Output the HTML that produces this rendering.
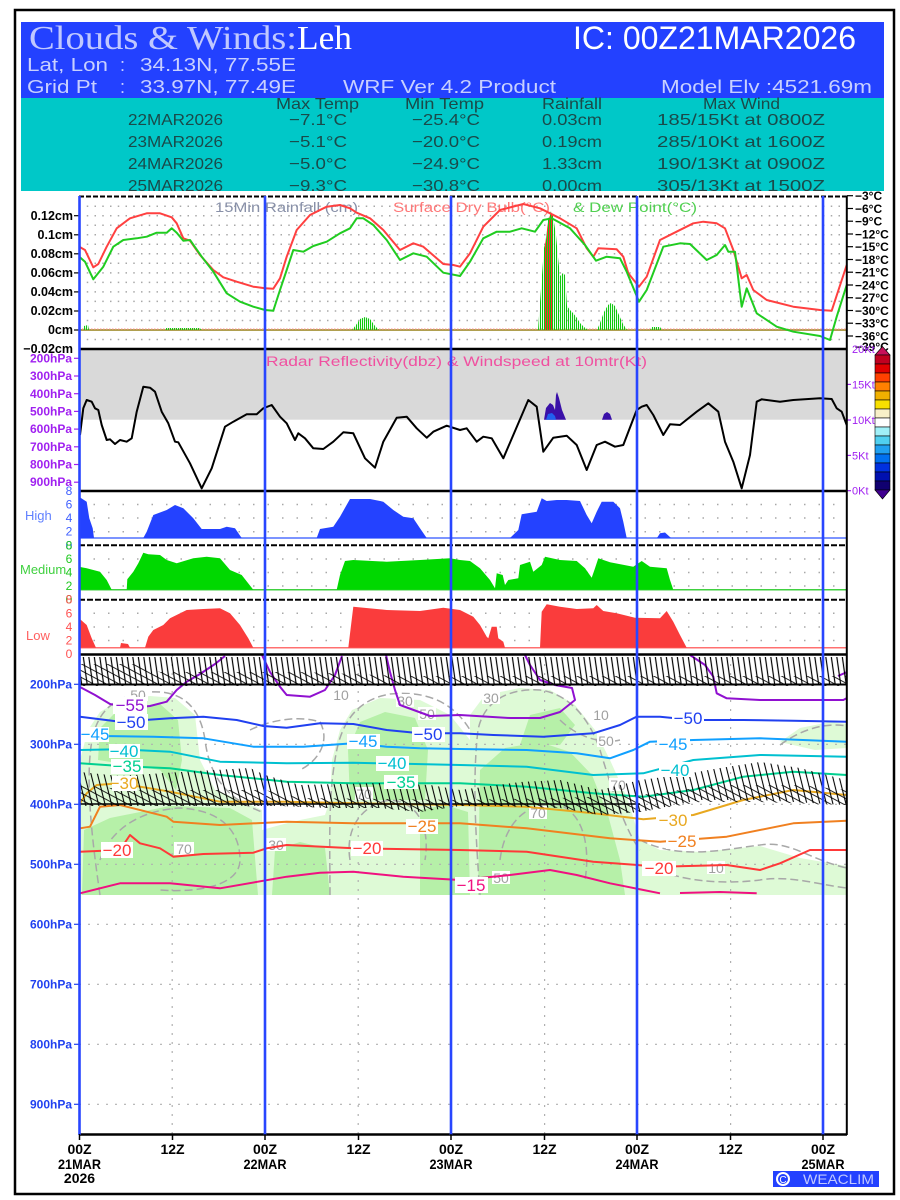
<!DOCTYPE html>
<html><head><meta charset="utf-8"><style>
html,body{margin:0;padding:0;background:#fff;}
svg{display:block;}
text{font-family:"Liberation Sans",sans-serif;}
</style></head><body>
<svg width="900" height="1200" viewBox="0 0 900 1200" xmlns="http://www.w3.org/2000/svg">
<defs>
<clipPath id="hdr"><rect x="21" y="22" width="863" height="169"/></clipPath>
<clipPath id="plot"><rect x="79" y="196" width="768" height="940"/></clipPath>
<pattern id="rb" patternUnits="userSpaceOnUse" width="2" height="10"><rect x="0" y="0" width="1.1" height="10" fill="#10C810"/></pattern>
<pattern id="rr" patternUnits="userSpaceOnUse" width="2" height="10"><rect x="1" y="0" width="1" height="10" fill="#FF3030"/></pattern>
<pattern id="vh" patternUnits="userSpaceOnUse" width="5.5" height="400" patternTransform="skewX(8)"><line x1="2" y1="0" x2="2" y2="400" stroke="#000" stroke-width="1.2"/></pattern>
<pattern id="vh2" patternUnits="userSpaceOnUse" width="6.5" height="400" patternTransform="skewX(14)"><line x1="2" y1="0" x2="2" y2="400" stroke="#000" stroke-width="1.1"/></pattern>
<pattern id="dg" patternUnits="userSpaceOnUse" width="400" height="6" patternTransform="rotate(28)"><line x1="0" y1="2" x2="400" y2="2" stroke="#000" stroke-width="1"/></pattern>
</defs>

<!-- outer frame -->
<rect x="15" y="10" width="879" height="1184" fill="#fff" stroke="#000" stroke-width="2.5"/>

<!-- header -->
<rect x="21" y="22" width="863" height="76" fill="#2341FF"/>
<rect x="21" y="98" width="863" height="93" fill="#00C8C8"/>
<text x="29" y="49" font-size="34" fill="#C0C8FF" textLength="268" lengthAdjust="spacingAndGlyphs" style="font-family:'Liberation Serif',serif">Clouds &amp; Winds:</text>
<text x="297" y="49" font-size="34" fill="#FFFFFF" textLength="55" lengthAdjust="spacingAndGlyphs" style="font-family:'Liberation Serif',serif">Leh</text>
<text x="573" y="49" font-size="32" fill="#FFFFFF" textLength="283" lengthAdjust="spacingAndGlyphs">IC: 00Z21MAR2026</text>
<g fill="#C8D0FF" font-size="18">
<text x="27" y="71" textLength="81" lengthAdjust="spacingAndGlyphs">Lat, Lon</text>
<text x="120" y="71">:</text>
<text x="140" y="71" textLength="156" lengthAdjust="spacingAndGlyphs">34.13N, 77.55E</text>
<text x="27" y="93" textLength="70" lengthAdjust="spacingAndGlyphs">Grid Pt</text>
<text x="120" y="93">:</text>
<text x="140" y="93" textLength="156" lengthAdjust="spacingAndGlyphs">33.97N, 77.49E</text>
<text x="343" y="93" textLength="213" lengthAdjust="spacingAndGlyphs">WRF Ver 4.2 Product</text>
<text x="661" y="93" textLength="211" lengthAdjust="spacingAndGlyphs">Model Elv :4521.69m</text>
</g>
<g clip-path="url(#hdr)" fill="#1A4A4A" font-size="16">
<text x="276" y="109" textLength="83" lengthAdjust="spacingAndGlyphs">Max Temp</text>
<text x="405" y="109" textLength="79" lengthAdjust="spacingAndGlyphs">Min Temp</text>
<text x="542" y="109" textLength="60" lengthAdjust="spacingAndGlyphs">Rainfall</text>
<text x="703" y="109" textLength="77" lengthAdjust="spacingAndGlyphs">Max Wind</text>

<text x="128" y="125" textLength="95" lengthAdjust="spacingAndGlyphs">22MAR2026</text>
<text x="289" y="125" textLength="58" lengthAdjust="spacingAndGlyphs">−7.1°C</text>
<text x="412" y="125" textLength="68" lengthAdjust="spacingAndGlyphs">−25.4°C</text>
<text x="542" y="125" textLength="60" lengthAdjust="spacingAndGlyphs">0.03cm</text>
<text x="657" y="125" textLength="168" lengthAdjust="spacingAndGlyphs">185/15Kt at 0800Z</text>

<text x="128" y="147" textLength="95" lengthAdjust="spacingAndGlyphs">23MAR2026</text>
<text x="289" y="147" textLength="58" lengthAdjust="spacingAndGlyphs">−5.1°C</text>
<text x="412" y="147" textLength="68" lengthAdjust="spacingAndGlyphs">−20.0°C</text>
<text x="542" y="147" textLength="60" lengthAdjust="spacingAndGlyphs">0.19cm</text>
<text x="657" y="147" textLength="168" lengthAdjust="spacingAndGlyphs">285/10Kt at 1600Z</text>

<text x="128" y="169" textLength="95" lengthAdjust="spacingAndGlyphs">24MAR2026</text>
<text x="289" y="169" textLength="58" lengthAdjust="spacingAndGlyphs">−5.0°C</text>
<text x="412" y="169" textLength="68" lengthAdjust="spacingAndGlyphs">−24.9°C</text>
<text x="542" y="169" textLength="60" lengthAdjust="spacingAndGlyphs">1.33cm</text>
<text x="657" y="169" textLength="168" lengthAdjust="spacingAndGlyphs">190/13Kt at 0900Z</text>

<text x="128" y="191" textLength="95" lengthAdjust="spacingAndGlyphs">25MAR2026</text>
<text x="289" y="191" textLength="58" lengthAdjust="spacingAndGlyphs">−9.3°C</text>
<text x="412" y="191" textLength="68" lengthAdjust="spacingAndGlyphs">−30.8°C</text>
<text x="542" y="191" textLength="60" lengthAdjust="spacingAndGlyphs">0.00cm</text>
<text x="657" y="191" textLength="168" lengthAdjust="spacingAndGlyphs">305/13Kt at 1500Z</text>
</g>

<!-- ============ TOP PANEL ============ -->
<g stroke="#A8A8A8" stroke-width="1.5" stroke-dasharray="1.5 6.25" fill="none">
<line x1="79" y1="206.2" x2="847" y2="206.2"/><line x1="79" y1="215.7" x2="847" y2="215.7"/>
<line x1="79" y1="225.2" x2="847" y2="225.2"/><line x1="79" y1="234.8" x2="847" y2="234.8"/>
<line x1="79" y1="244.3" x2="847" y2="244.3"/><line x1="79" y1="253.8" x2="847" y2="253.8"/>
<line x1="79" y1="263.3" x2="847" y2="263.3"/><line x1="79" y1="272.9" x2="847" y2="272.9"/>
<line x1="79" y1="282.4" x2="847" y2="282.4"/><line x1="79" y1="291.9" x2="847" y2="291.9"/>
<line x1="79" y1="301.4" x2="847" y2="301.4"/><line x1="79" y1="311" x2="847" y2="311"/>
<line x1="79" y1="320.5" x2="847" y2="320.5"/><line x1="79" y1="339.5" x2="847" y2="339.5"/>
</g>
<text x="215" y="212" font-size="13.5" fill="#8890A8" textLength="143" lengthAdjust="spacingAndGlyphs">15Min Rainfall (cm)</text>
<text x="393" y="212" font-size="13.5" fill="#FF7878" textLength="157" lengthAdjust="spacingAndGlyphs">Surface Dry Bulb(°C)</text>
<text x="573" y="212" font-size="13.5" fill="#50D050" textLength="124" lengthAdjust="spacingAndGlyphs">&amp; Dew Point(°C)</text>

<!-- rain baseline -->
<line x1="79" y1="330" x2="847" y2="330" stroke="#B0A050" stroke-width="2"/>
<line x1="79" y1="329" x2="847" y2="329" stroke="#FF9090" stroke-width="1" stroke-dasharray="1.5 1.5"/>
<!-- rain bars -->
<polygon points="83,330 84,326 88,325 89,330" fill="url(#rb)"/>
<polygon points="165,330 166,328 200,328 201,330" fill="url(#rb)"/>
<polygon points="352,330 356,325 360,319 365,317 370,319 375,326 379,330" fill="url(#rb)"/>
<polygon points="538,330 540,302 544,248 546,240 548,220 551,211 553,216 556,235 558,257 560,276 563,273 565,275 567,306 570,310 573,313 577,318 580,323 584,327 588,330" fill="url(#rb)"/>
<polygon points="545,330 545,245 548,222 551,212 553,218 553,330" fill="url(#rr)"/>
<polygon points="597,330 600,323 604,312 608,305 611,303 615,306 619,315 623,324 627,330" fill="url(#rb)"/>
<polygon points="650,330 652,327 660,327 662,330" fill="url(#rb)"/>

<polyline fill="none" stroke="#FF4040" stroke-width="2" stroke-linejoin="round" points="79.3,246.7 85,250 93.3,267.3 98.3,264 106.7,246.7 116.7,228.3 130,218.3 146.7,213.3 160,213.3 171.7,217.3 176.7,223.3 183.3,238.3 190,240.7 200,255 213.3,270 223.3,277.3 236.7,281.7 253.3,286.7 265,288.3 273.3,288.7 280,278.3 286.7,256.7 296.7,230 310,215 326.7,206.7 340,205 350,208.3 356.7,212.7 370,218.3 383.3,230 400,250 413.3,243.3 423.3,246.7 443.3,264 453.3,265 460,266.7 470,253.3 483.3,226.7 500,210 523.3,204 540,208.3 550,213.3 560,218.3 576.7,228.3 586.7,248.3 593.3,256.7 598.3,248.3 616.7,249.3 623.3,256.7 628.3,273.3 639,286.7 646.7,276.7 660,240 673.3,233.3 693.3,223.3 703.3,221.7 716.7,223.3 725,228.3 733.3,250 741.7,278.3 746.7,275 753.3,290 766.7,300 793.3,306.7 820,310 831.7,310.7 846.7,265"/>
<polyline fill="none" stroke="#20CC20" stroke-width="2" stroke-linejoin="round" points="79.3,256.7 85,261.7 93.3,279.3 103.3,266.7 113.3,246.7 123.3,240 136.7,238.3 146.7,236.7 156.7,232.7 166.7,232.7 171.7,228.3 176.7,232.7 183.3,240.7 190,240 201.7,256.7 213.3,271.7 226.7,293.3 240,301.7 253.3,306.7 265,310 273.3,310.7 280,290 286.7,270 293.3,250 303.3,251.7 313.3,246 326.7,241.7 340,233.3 350,228.3 356.7,218.3 363.3,218.3 373.3,225 386.7,240 400,260 413.3,253.3 426.7,256.7 443.3,272.7 460,276 470,261.7 483.3,238.3 496.7,231.7 510,231.7 521.7,228.3 535,231.7 543.3,220 551.7,218.3 570,228.3 585,245 596,260.7 606.7,256.7 620,258.3 626.7,271.7 639,301.7 646.7,290 663.3,246.7 680,243.3 690,244 706.7,260 716.7,255 725,245 728.3,251.7 735,251.7 741.7,306.7 746.7,288.3 756.7,313.3 776.7,326.7 793.3,331.7 820,336 830,340 836.7,316.7 846.7,285"/>

<!-- top panel axes labels -->
<g font-size="12.5" font-weight="bold" fill="#000" text-anchor="end">
<text x="73" y="220">0.12cm</text><text x="73" y="239">0.1cm</text><text x="73" y="258">0.08cm</text>
<text x="73" y="277">0.06cm</text><text x="73" y="296">0.04cm</text><text x="73" y="315">0.02cm</text>
<text x="73" y="334">0cm</text><text x="73" y="353">−0.02cm</text>
</g>
<g stroke="#000" stroke-width="1.2">
<line x1="74" y1="215.7" x2="79" y2="215.7"/><line x1="74" y1="234.8" x2="79" y2="234.8"/><line x1="74" y1="253.8" x2="79" y2="253.8"/><line x1="74" y1="272.9" x2="79" y2="272.9"/><line x1="74" y1="291.9" x2="79" y2="291.9"/><line x1="74" y1="311" x2="79" y2="311"/><line x1="74" y1="330" x2="79" y2="330"/>
<line x1="847" y1="195.7" x2="853" y2="195.7"/><line x1="847" y1="208.5" x2="853" y2="208.5"/><line x1="847" y1="221.2" x2="853" y2="221.2"/><line x1="847" y1="234" x2="853" y2="234"/><line x1="847" y1="246.7" x2="853" y2="246.7"/><line x1="847" y1="259.5" x2="853" y2="259.5"/><line x1="847" y1="272.2" x2="853" y2="272.2"/><line x1="847" y1="285" x2="853" y2="285"/><line x1="847" y1="297.7" x2="853" y2="297.7"/><line x1="847" y1="310.5" x2="853" y2="310.5"/><line x1="847" y1="323.2" x2="853" y2="323.2"/><line x1="847" y1="336" x2="853" y2="336"/>
</g>
<g font-size="12" font-weight="bold" fill="#000" style="font-family:'Liberation Serif',serif">
<text x="855" y="200">−3°C</text><text x="855" y="213">−6°C</text><text x="855" y="225.5">−9°C</text>
<text x="855" y="238.5">−12°C</text><text x="855" y="251">−15°C</text><text x="855" y="264">−18°C</text>
<text x="855" y="276.5">−21°C</text><text x="855" y="289.5">−24°C</text><text x="855" y="302">−27°C</text>
<text x="855" y="315">−30°C</text><text x="855" y="327.5">−33°C</text><text x="855" y="340.5">−36°C</text>
<text x="855" y="351">−39°C</text>
</g>

<!-- ============ RADAR PANEL ============ -->
<rect x="79" y="349" width="768" height="70.7" fill="#D9D9D9"/>
<text x="266" y="366" font-size="13.5" fill="#F050A0" textLength="381" lengthAdjust="spacingAndGlyphs">Radar Reflectivity(dbz) &amp; Windspeed at 10mtr(Kt)</text>
<polygon points="544,419.7 546,408 550,403 553,405 555,410 556,395 557,392 559,398 562,410 566,419.7" fill="#3A10A8"/>
<polygon points="546,419.7 548,414 552,413 555,416 556,419.7" fill="#2060F0"/>
<polygon points="602,419.7 604,414 607,412 610,414 612,419.7" fill="#3A10A8"/>
<polyline fill="none" stroke="#000" stroke-width="2" stroke-linejoin="round" points="80,435 83.3,408.3 86.7,400 91.7,401.7 95,408.3 98.3,410 101.7,425 106.7,440 110,439.3 115,444 120,440 126.7,441.7 131.7,438.3 136.7,411.7 143.3,386.7 150,387.7 155,391.7 161.7,411.7 168.3,423.3 175,441.7 178.3,442.3 190,463.3 201.7,488.3 211.7,468.3 225,426.7 233.3,421.7 246.7,414.3 256.7,414.3 263.3,408.3 271.7,405 280,416.7 286.7,423.3 295,440 298.3,433.3 305,438.3 313.3,448.3 323.3,449 333.3,441.7 343.3,432.3 353.3,433.3 365,458.3 375,467.7 383.3,441.7 396.7,417.7 406.7,416.7 416.7,428.3 426.7,437.7 433.3,431.7 446.7,425.7 460,430 466.7,428.3 476.7,441.7 483.3,436.7 491.7,438.3 503.3,458.3 513.3,435 528.3,400 536.7,406.7 543.3,451.7 553.3,437.7 566.7,435.7 576.7,445 586.7,470 596.7,445 605,441.7 615,446.7 623.3,445 636.7,410 641.7,406.7 646.7,405 653.3,415 663.3,435 670,424.3 680,425 696.7,411.7 708.3,403.3 718.3,411.7 725,441.7 733.3,461.7 741.7,488.3 750,455 756.7,401.7 761.7,399.3 780,401.7 793.3,400 820,398.3 831.7,399 836.7,408.3 841.7,411.7 846.7,425"/>
<g font-size="12" font-weight="bold" fill="#A020F0" text-anchor="end">
<text x="72" y="362.5">200hPa</text><text x="72" y="380">300hPa</text><text x="72" y="398">400hPa</text>
<text x="72" y="415.5">500hPa</text><text x="72" y="433">600hPa</text><text x="72" y="451">700hPa</text>
<text x="72" y="468.5">800hPa</text><text x="72" y="486">900hPa</text>
</g>
<g stroke="#A020F0" stroke-width="1.2">
<line x1="74" y1="358.3" x2="79" y2="358.3"/><line x1="74" y1="376" x2="79" y2="376"/><line x1="74" y1="393.7" x2="79" y2="393.7"/><line x1="74" y1="411.4" x2="79" y2="411.4"/><line x1="74" y1="429.1" x2="79" y2="429.1"/><line x1="74" y1="446.8" x2="79" y2="446.8"/><line x1="74" y1="464.5" x2="79" y2="464.5"/><line x1="74" y1="482.2" x2="79" y2="482.2"/>
<line x1="847" y1="384.4" x2="851" y2="384.4"/><line x1="847" y1="420" x2="851" y2="420"/><line x1="847" y1="455.4" x2="851" y2="455.4"/><line x1="847" y1="490.7" x2="851" y2="490.7"/>
</g>
<g font-size="11" fill="#A020F0">
<text x="852" y="353">20Kt</text><text x="852" y="388.5">15Kt</text><text x="852" y="424">10Kt</text>
<text x="852" y="459.5">5Kt</text><text x="852" y="494.5">0Kt</text>
</g>
<!-- colorbar -->
<g stroke="#000" stroke-width="0.6">
<polygon points="875,355 882.5,346.5 890,355" fill="#C8105A"/>
<rect x="875" y="355" width="15" height="9" fill="#C00020"/>
<rect x="875" y="364" width="15" height="9" fill="#E00000"/>
<rect x="875" y="373" width="15" height="9" fill="#FF4000"/>
<rect x="875" y="382" width="15" height="9" fill="#FF8000"/>
<rect x="875" y="391" width="15" height="9" fill="#F0B000"/>
<rect x="875" y="400" width="15" height="9" fill="#F8E000"/>
<rect x="875" y="409" width="15" height="9" fill="#F8F0C8"/>
<rect x="875" y="418" width="15" height="9" fill="#FFFFFF"/>
<rect x="875" y="427" width="15" height="9" fill="#A0F0F8"/>
<rect x="875" y="436" width="15" height="9" fill="#50D0F0"/>
<rect x="875" y="445" width="15" height="9" fill="#20A0F0"/>
<rect x="875" y="454" width="15" height="9" fill="#0070F0"/>
<rect x="875" y="463" width="15" height="9" fill="#0030E0"/>
<rect x="875" y="472" width="15" height="9" fill="#0010B0"/>
<rect x="875" y="481" width="15" height="9" fill="#100070"/>
<polygon points="875,490 882.5,499 890,490" fill="#400090"/>
</g>

<!-- ============ CLOUD PANELS ============ -->
<g stroke="#A8A8A8" stroke-width="1.5" stroke-dasharray="1.5 13" fill="none">
<line x1="79" y1="504.5" x2="847" y2="504.5"/><line x1="79" y1="518" x2="847" y2="518"/><line x1="79" y1="531.7" x2="847" y2="531.7"/>
<line x1="79" y1="559" x2="847" y2="559"/><line x1="79" y1="572.5" x2="847" y2="572.5"/><line x1="79" y1="586" x2="847" y2="586"/>
<line x1="79" y1="613.3" x2="847" y2="613.3"/><line x1="79" y1="627" x2="847" y2="627"/><line x1="79" y1="640.5" x2="847" y2="640.5"/>
</g>
<line x1="79" y1="538" x2="847" y2="538" stroke="#5070FF" stroke-width="1.5"/>
<line x1="79" y1="589.7" x2="847" y2="589.7" stroke="#40D040" stroke-width="1.5"/>
<line x1="79" y1="647.7" x2="847" y2="647.7" stroke="#FF7070" stroke-width="1.5"/>
<polygon fill="#2442FF" points="79,538 79,496.7 86.7,501.7 89.3,518.3 92.7,528.3 94,538 143.3,538 146.7,531.7 153.3,515 166.7,510 175,505 183.3,508.3 193.3,518.3 201.7,529 220,529 226.7,526.7 235,528.3 241.7,538 316.7,538 320,529 333.3,526.7 340,516.7 350,499 370,499 383.3,501.7 393.3,510 403.3,516.7 413.3,518.3 420,528.3 426.7,538 510,538 518.3,530 521.7,514.3 536.7,511.7 541.7,498.3 546.7,501 556.7,500 566.7,500 580,501 586.7,515 591.7,523.3 596.7,511.7 601.7,501.7 613.3,501.7 620,508.3 623.3,521.7 626.7,538"/>
<polygon fill="#2442FF" points="657,538 660,533.3 665,532.5 671,538"/>
<polygon fill="#00D800" points="79,589.7 79,566.7 86.7,568.3 100,571.7 106.7,580 111.7,589.7 126.7,589.7 127.3,579.3 133.3,571.7 138.3,563.3 143.3,552.7 148.3,554.3 160,555 166.7,560 176.7,563.3 193.3,558.3 206.7,556.7 220,558.3 230,570 241.7,575 253.3,589.7 336.7,589.7 340,575 345,561 353.3,560 386.7,561.7 420,560 450,558.3 460,560 470,561 480,568.3 490,580 495,588.3 496.7,573.3 502.7,575 505,585 508.3,580 518.3,578.3 520,565 530,561.7 533.3,571.7 541.7,565 545,556.7 560,560 576.7,561 585,568.3 591.7,577.7 595,568.3 598.3,558.3 610,562.3 633.3,566.7 641.7,561 650,566.7 666.7,568.3 670,580 673.3,589.7"/>
<polygon fill="#FA3C3C" points="79,647.7 79,618.3 86.7,625 91.7,638.3 96,647.7 120,647.7 121,643 128,644 130,647.7 145,647.7 148.3,636.7 153.3,630 163.3,625 170,618.3 186.7,610 203.3,609 220,608.3 230,613.3 240,625 248.3,638.3 253.3,647.7 348.3,647.7 353.3,606.7 386.7,610 420,611 443.3,607.7 460,610 473.3,616.7 480,625 486.7,636.7 488.3,638.3 491.7,626.7 496.7,626.7 498.3,638.3 503.3,641.7 505,647.7 540,647.7 541.7,611.7 546.7,604.3 560,606.7 576.7,609 593.3,608.3 596.7,605 603.3,611 616.7,613.3 635,617.7 660,618.3 666.7,611 673.3,621.7 680,635 686.7,647.7"/>
<g font-size="12" text-anchor="middle">
<g fill="#4060FF"><text x="69" y="495">8</text><text x="69" y="508.5">6</text><text x="69" y="522">4</text><text x="69" y="535.7">2</text><text x="69" y="549.3">0</text></g>
<g fill="#20C820"><text x="69" y="549.3">8</text><text x="69" y="563">6</text><text x="69" y="576.5">4</text><text x="69" y="590">2</text><text x="69" y="603.7">0</text></g>
<g fill="#FF5050"><text x="69" y="603.7">8</text><text x="69" y="617.3">6</text><text x="69" y="631">4</text><text x="69" y="644.5">2</text><text x="69" y="658">0</text></g>
</g>
<text x="25" y="520" font-size="13" fill="#6080FF">High</text>
<text x="20" y="574" font-size="13" fill="#40D040">Medium</text>
<text x="26" y="640" font-size="13" fill="#FF6060">Low</text>

<!-- ============ CROSS SECTION ============ -->
<g clip-path="url(#plot)">
<g fill="#DEFAD6">
<polygon points="80,895 80,760 88,730 100,712 120,700 150,696 175,698 195,715 200,760 215,790 240,800 262,810 262,895"/>
<polygon points="262,895 262,830 280,825 300,820 325,815 330,800 332,760 340,730 352,710 380,698 420,700 450,715 470,740 470,895"/>
<polygon points="470,895 470,715 485,695 520,688 550,690 575,705 595,730 610,760 628,800 640,840 660,850 700,852 760,846 800,858 847,866 847,895"/>
<polygon points="780,742 800,728 830,722 847,724 847,748 815,750"/>
</g>
<g fill="#B6F0A8">
<polygon points="98,760 100,728 120,708 160,704 178,720 182,760 176,790 160,770 130,765"/>
<polygon points="82,895 84,830 110,818 170,806 230,808 252,820 258,895"/>
<polygon points="350,800 348,750 360,722 385,712 415,718 428,750 425,800"/>
<polygon points="420,895 420,810 445,805 468,812 470,895"/>
<polygon points="478,895 480,770 505,748 540,742 570,752 592,775 608,815 620,860 625,895"/>
<polygon points="272,895 275,850 300,842 325,848 330,895"/>
<polygon points="520,745 530,715 560,708 575,725 560,745"/>
</g>
</g>
<g stroke="#B0B0B0" stroke-width="1.2" stroke-dasharray="2 7" fill="none">
<line x1="79" y1="684.3" x2="847" y2="684.3"/><line x1="79" y1="744.3" x2="847" y2="744.3"/>
<line x1="79" y1="804.3" x2="847" y2="804.3"/><line x1="79" y1="864.3" x2="847" y2="864.3"/>
<line x1="79" y1="924.3" x2="847" y2="924.3"/><line x1="79" y1="984.3" x2="847" y2="984.3"/>
<line x1="79" y1="1044.3" x2="847" y2="1044.3"/><line x1="79" y1="1104.3" x2="847" y2="1104.3"/>
<line x1="172.2" y1="655" x2="172.2" y2="1134"/><line x1="358.2" y1="655" x2="358.2" y2="1134"/>
<line x1="544.6" y1="655" x2="544.6" y2="1134"/><line x1="730.6" y1="655" x2="730.6" y2="1134"/>
</g>
<g stroke="#A8A8A8" stroke-width="1.5" stroke-dasharray="8 4" fill="none" clip-path="url(#plot)">
<path d="M100,895 C92,840 85,780 92,740 C98,710 115,695 150,692 C180,690 200,705 205,740 C210,780 230,800 262,812"/>
<path d="M330,895 C330,850 328,800 335,760 C340,725 355,700 390,694 C430,690 455,705 470,730"/>
<path d="M480,895 C476,840 472,780 478,730 C484,700 510,688 540,690 C570,694 590,720 600,750 C612,790 625,830 640,850"/>
<path d="M100,860 C110,830 140,810 180,808 C220,810 240,830 240,860 C240,885 200,893 160,890"/>
<path d="M350,860 C345,830 360,805 390,800 C420,802 430,830 425,860"/>
<path d="M500,860 C505,820 530,800 560,805 C585,815 590,850 585,880"/>
<path d="M640,840 C680,860 720,850 760,845 C790,840 810,860 847,868"/>
<path d="M250,730 C270,720 300,715 320,722 C330,740 320,760 300,770"/>
<path d="M560,720 C575,735 600,745 620,740"/>
<path d="M660,870 C680,880 720,885 760,880 C790,875 820,885 847,888"/>
<path d="M780,745 C800,730 825,722 847,726"/>
</g>
<g font-size="14" fill="#A0A0A0" text-anchor="middle">
<rect x="128" y="688" width="20" height="13" fill="#fff"/><text x="138" y="700">50</text>
<rect x="396" y="694" width="18" height="13" fill="#fff"/><text x="405" y="706">30</text>
<rect x="418" y="707" width="18" height="13" fill="#fff"/><text x="427" y="719">50</text>
<rect x="332" y="689" width="18" height="12" fill="#fff"/><text x="341" y="700">10</text>
<rect x="482" y="691" width="18" height="13" fill="#fff"/><text x="491" y="703">30</text>
<rect x="592" y="708" width="18" height="13" fill="#fff"/><text x="601" y="720">10</text>
<rect x="597" y="734" width="18" height="13" fill="#fff"/><text x="606" y="746">50</text>
<rect x="609" y="778" width="18" height="13" fill="#fff"/><text x="618" y="790">70</text>
<rect x="529" y="806" width="18" height="13" fill="#fff"/><text x="538" y="818">70</text>
<rect x="174" y="842" width="20" height="13" fill="#fff"/><text x="184" y="854">70</text>
<rect x="266" y="838" width="20" height="13" fill="#fff"/><text x="276" y="850">30</text>
<rect x="355" y="787" width="18" height="13" fill="#fff"/><text x="364" y="799">70</text>
<rect x="492" y="871" width="18" height="13" fill="#fff"/><text x="501" y="883">50</text>
<rect x="707" y="861" width="18" height="13" fill="#fff"/><text x="716" y="873">10</text>
</g>
<g fill="none" stroke-width="2" stroke-linejoin="round" clip-path="url(#plot)">
<g stroke="#9010D0">
<polyline points="80,687 95,695 110,704 130,708 150,706 166.7,701.7 176.7,690 186.7,681.7 200,674 215,664 225,656"/>
<polyline points="262,655 270,672 280,686.7 286.7,695 310,696.7 325,690 335,675 342,656"/>
<polyline points="386,655 390,672 395,690 400,705 430,716 460,715 510,718 540,718 560,712 575,700 572,688 555,685 540,680 530,665 525,655"/>
<polyline points="690,655 705,665 713.3,676.7 716.7,693.3 726.7,698.3 760,700 800,700 843.3,700 847,698"/>
<polyline points="838,676 847,672"/>
</g>
<polyline stroke="#2040F0" points="80,716.7 120,721.7 170,718.3 203.3,716.7 236.7,720 263.3,726 286.7,727.7 320,723.3 353.3,724 386.7,730 420,733.3 460,733.3 493.3,735 543.3,736.7 593.3,733.3 620,725 636.7,716.7 660,716.7 693.3,720 743.3,720 793.3,720.7 846.7,721.7"/>
<polyline stroke="#10A0FF" points="80,735 103.3,736 153.3,736.7 203.3,738.3 253.3,746.7 303.3,746.7 353.3,743.3 386.7,746.7 420,748.3 460,749 526.7,750 576.7,753.3 610,758.3 633.3,750 650,741.7 693.3,740 760,738.3 846.7,741.7"/>
<polyline stroke="#00C0D0" points="80,750 120,749.3 170,751.7 220,761.7 286.7,763.3 353.3,762.7 460,765 526.7,766.7 593.3,775 643.3,773.3 693.3,760 760,755 846.7,756.7"/>
<polyline stroke="#00D090" points="80,763.3 120,766 170,768.3 220,775 286.7,781.7 353.3,783.3 460,783.3 526.7,786.7 593.3,793.3 643.3,796.7 693.3,790 743.3,776.7 793.3,771.7 846.7,775"/>
<polyline stroke="#E8A820" points="80,803.3 86.7,793.3 96.7,785 120,783.3 170,791.7 220,801.7 286.7,801.7 353.3,803.3 460,805 526.7,806.7 593.3,813.3 643.3,819.3 693.3,815 743.3,800 793.3,790 846.7,795"/>
<polyline stroke="#F08020" points="80,828.3 90,826.7 100,806.7 120,805 166.7,816.7 173.3,821.7 220,825 286.7,821.7 353.3,823.3 460,823.3 526.7,828.3 610,838.3 660,841.7 726.7,836.7 793.3,823.3 846.7,820.7"/>
<polyline stroke="#FF3838" points="80,851.7 120,850 130,835 140,843.3 160,848.3 173.3,856.7 203.3,854 253.3,852.7 266.7,848.3 286.7,845 353.3,848.3 460,850 526.7,851.7 593.3,861.7 660,866.7 726.7,865 760,870 780,863.3 810,850 846.7,850"/>
<polyline stroke="#F01080" points="80,893.3 120,883.3 170,883.3 220,888.3 286.7,876.7 320,872.7 353.3,871.7 403.3,876.7 460,880 510,875 550,870 576.7,875 610,883.3 660,893.3"/>
<polyline stroke="#F01080" points="680,893 720,892 756.7,893.3"/>
</g>

<!-- wind barbs (approximated with hatch) -->
<g clip-path="url(#plot)">
<rect x="80" y="657" width="767" height="28" fill="url(#vh)"/>
<polygon points="80,664 140,664 160,672 300,672 400,676 846,676 846,686 80,686" fill="url(#dg)" opacity="0.85"/>
<line x1="80" y1="684.5" x2="846" y2="684.5" stroke="#000" stroke-width="2"/>
<polygon fill="url(#vh2)" points="80,772 120,776 180,772 250,768 265,775 300,785 380,783 430,785 460,790 520,782 560,780 600,790 640,780 680,775 720,768 760,762 800,768 846,780 846,805 760,800 700,800 640,812 600,815 560,808 500,806 460,806 420,812 380,808 330,808 280,806 240,806 180,806 120,806 80,806"/>
<polygon fill="url(#dg)" opacity="0.85" points="80,785 130,790 265,790 300,798 460,800 560,798 640,795 720,785 800,785 846,790 846,805 760,802 700,802 640,812 600,815 560,808 500,806 460,806 420,812 380,808 330,808 280,806 240,806 180,806 120,806 80,806"/>
<line x1="80" y1="804" x2="640" y2="804" stroke="#000" stroke-width="1.5"/>
</g>

<!-- contour labels -->
<g font-size="17" text-anchor="middle">
<rect x="113" y="697" width="34" height="17" fill="#fff"/><text x="130" y="711" fill="#9010D0">−55</text>
<rect x="115" y="714" width="33" height="16" fill="#fff"/><text x="131" y="728" fill="#2040F0">−50</text>
<rect x="412" y="727" width="33" height="15" fill="#fff"/><text x="428" y="740" fill="#2040F0">−50</text>
<rect x="672" y="711" width="32" height="15" fill="#fff"/><text x="688" y="724" fill="#2040F0">−50</text>
<rect x="80" y="727" width="29" height="15" fill="#fff"/><text x="95" y="740" fill="#10A0FF">−45</text>
<rect x="347" y="734" width="33" height="15" fill="#fff"/><text x="363" y="747" fill="#10A0FF">−45</text>
<rect x="657" y="737" width="33" height="15" fill="#fff"/><text x="673" y="750" fill="#10A0FF">−45</text>
<rect x="109" y="744" width="31" height="14" fill="#fff"/><text x="124" y="757" fill="#00C0D0">−40</text>
<rect x="376" y="756" width="33" height="15" fill="#fff"/><text x="392" y="769" fill="#00C0D0">−40</text>
<rect x="659" y="762" width="33" height="15" fill="#fff"/><text x="675" y="776" fill="#00C0D0">−40</text>
<rect x="111" y="759" width="32" height="15" fill="#fff"/><text x="127" y="772" fill="#00D090">−35</text>
<rect x="384" y="775" width="34" height="14" fill="#fff"/><text x="401" y="788" fill="#00D090">−35</text>
<rect x="112" y="776" width="25" height="15" fill="#fff"/><text x="124" y="789" fill="#E8A820">−30</text>
<rect x="656" y="812" width="35" height="16" fill="#fff"/><text x="673" y="826" fill="#E8A820">−30</text>
<rect x="406" y="819" width="32" height="15" fill="#fff"/><text x="422" y="832" fill="#F08020">−25</text>
<rect x="666" y="834" width="33" height="15" fill="#fff"/><text x="682" y="847" fill="#F08020">−25</text>
<rect x="101" y="842" width="32" height="16" fill="#fff"/><text x="117" y="856" fill="#FF3838">−20</text>
<rect x="351" y="841" width="32" height="15" fill="#fff"/><text x="367" y="854" fill="#FF3838">−20</text>
<rect x="642" y="861" width="34" height="15" fill="#fff"/><text x="659" y="874" fill="#FF3838">−20</text>
<rect x="455" y="877" width="33" height="16" fill="#fff"/><text x="471" y="891" fill="#F01080">−15</text>
</g>

<!-- bottom panel axis labels -->
<g font-size="12" font-weight="bold" fill="#2040F0" text-anchor="end">
<text x="72" y="688.5">200hPa</text><text x="72" y="748.5">300hPa</text><text x="72" y="808.5">400hPa</text>
<text x="72" y="868.5">500hPa</text><text x="72" y="928.5">600hPa</text><text x="72" y="988.5">700hPa</text>
<text x="72" y="1048.5">800hPa</text><text x="72" y="1108.5">900hPa</text>
</g>
<g stroke="#2040F0" stroke-width="1.2">
<line x1="74" y1="684.3" x2="79" y2="684.3"/><line x1="74" y1="744.3" x2="79" y2="744.3"/><line x1="74" y1="804.3" x2="79" y2="804.3"/><line x1="74" y1="864.3" x2="79" y2="864.3"/><line x1="74" y1="924.3" x2="79" y2="924.3"/><line x1="74" y1="984.3" x2="79" y2="984.3"/><line x1="74" y1="1044.3" x2="79" y2="1044.3"/><line x1="74" y1="1104.3" x2="79" y2="1104.3"/>
</g>

<!-- panel borders -->
<line x1="79" y1="196.5" x2="847" y2="196.5" stroke="#000" stroke-width="2" stroke-dasharray="5 2"/>
<line x1="79" y1="349" x2="847" y2="349" stroke="#000" stroke-width="2.5"/>
<line x1="79" y1="491" x2="847" y2="491" stroke="#000" stroke-width="2.5"/>
<line x1="79" y1="545.3" x2="847" y2="545.3" stroke="#000" stroke-width="2" stroke-dasharray="6 2"/>
<line x1="79" y1="599.7" x2="847" y2="599.7" stroke="#000" stroke-width="2" stroke-dasharray="6 2"/>
<line x1="79" y1="654.5" x2="847" y2="654.5" stroke="#000" stroke-width="2.5"/>
<line x1="79" y1="1134.5" x2="847" y2="1134.5" stroke="#000" stroke-width="2.5"/>
<line x1="846.8" y1="196" x2="846.8" y2="1135" stroke="#000" stroke-width="2"/>

<!-- blue day lines -->
<g stroke="#2846FF" stroke-width="2.6">
<line x1="79.5" y1="196" x2="79.5" y2="1135"/>
<line x1="265" y1="196" x2="265" y2="1135"/>
<line x1="451" y1="196" x2="451" y2="1135"/>
<line x1="637" y1="196" x2="637" y2="1135"/>
<line x1="823" y1="196" x2="823" y2="1135"/>
</g>

<!-- x axis -->
<g stroke="#000" stroke-width="1.5">
<line x1="172.5" y1="1134" x2="172.5" y2="1140"/><line x1="358.5" y1="1134" x2="358.5" y2="1140"/>
<line x1="544.5" y1="1134" x2="544.5" y2="1140"/><line x1="730.5" y1="1134" x2="730.5" y2="1140"/>
<line x1="79.5" y1="1134" x2="79.5" y2="1140"/><line x1="265" y1="1134" x2="265" y2="1140"/>
<line x1="451" y1="1134" x2="451" y2="1140"/><line x1="637" y1="1134" x2="637" y2="1140"/><line x1="823" y1="1134" x2="823" y2="1140"/>
</g>
<g font-size="14" font-weight="bold" fill="#000" text-anchor="middle">
<text x="79.5" y="1154">00Z</text><text x="79.5" y="1169" textLength="43" lengthAdjust="spacingAndGlyphs">21MAR</text><text x="79.5" y="1183">2026</text>
<text x="172.5" y="1154">12Z</text>
<text x="265" y="1154">00Z</text><text x="265" y="1169" textLength="43" lengthAdjust="spacingAndGlyphs">22MAR</text>
<text x="358.5" y="1154">12Z</text>
<text x="451" y="1154">00Z</text><text x="451" y="1169" textLength="43" lengthAdjust="spacingAndGlyphs">23MAR</text>
<text x="544.5" y="1154">12Z</text>
<text x="637" y="1154">00Z</text><text x="637" y="1169" textLength="43" lengthAdjust="spacingAndGlyphs">24MAR</text>
<text x="730.5" y="1154">12Z</text>
<text x="823" y="1154">00Z</text><text x="823" y="1169" textLength="43" lengthAdjust="spacingAndGlyphs">25MAR</text>
</g>
<rect x="773" y="1171" width="106" height="16" fill="#2341FF"/>
<circle cx="783" cy="1179" r="6" fill="none" stroke="#fff" stroke-width="2"/>
<text x="783" y="1183" font-size="10" fill="#fff" text-anchor="middle">C</text>
<text x="803" y="1184" font-size="14" fill="#C0C8FF" textLength="71" lengthAdjust="spacingAndGlyphs">WEACLIM</text>
</svg>
</body></html>
